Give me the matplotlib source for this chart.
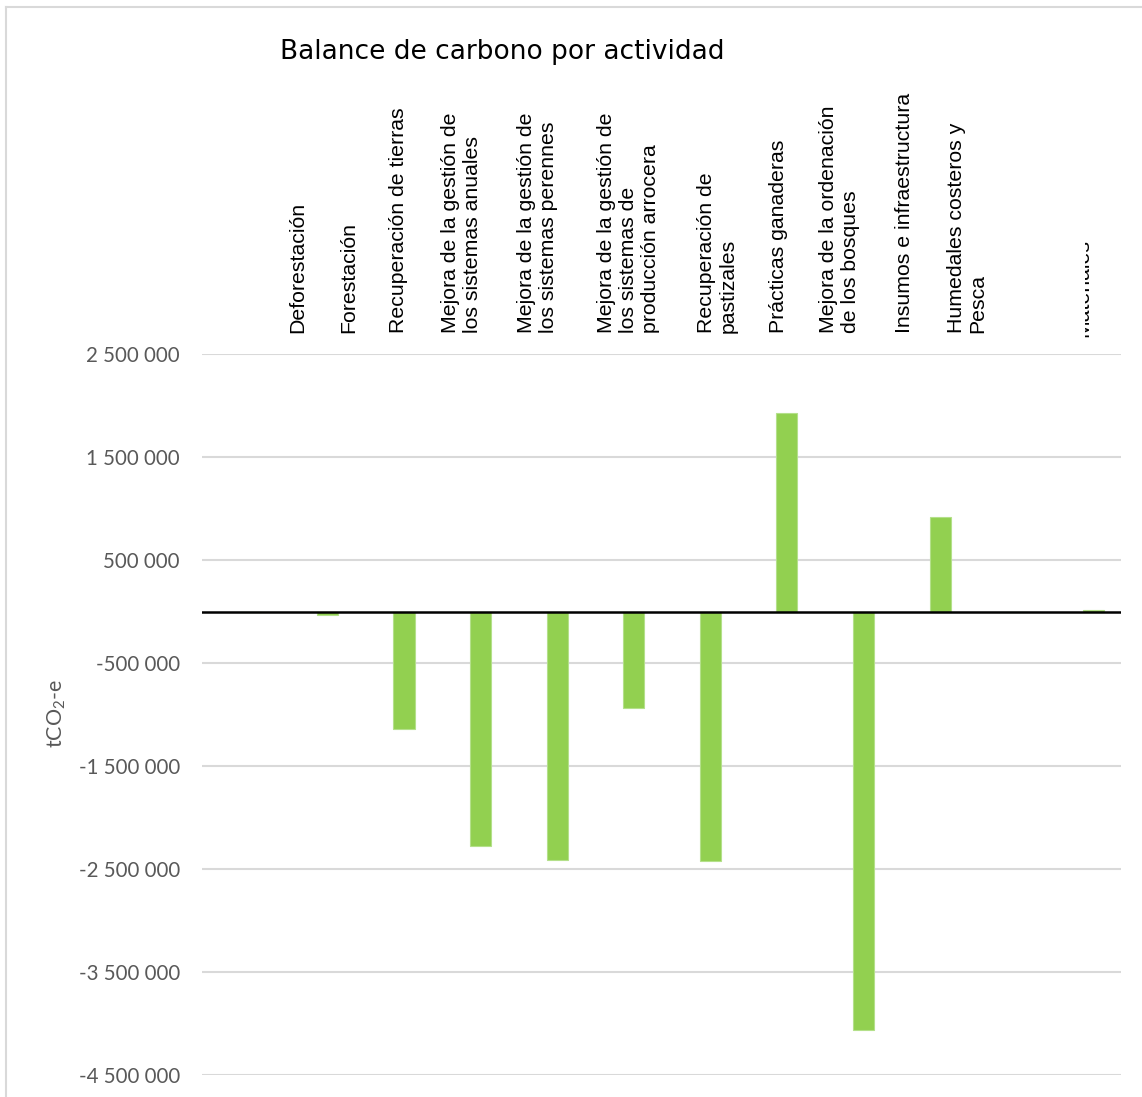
import matplotlib; matplotlib.use("Agg")
import matplotlib.pyplot as plt
from matplotlib.ticker import FuncFormatter, FixedLocator
from matplotlib.patches import Rectangle
from matplotlib.lines import Line2D

W, H = 1142, 1097

# data (tCO2-e)
categories = ["Deforestación", "Forestación", "Recuperación de tierras",
              "Mejora de la gestión de\nlos sistemas anuales",
              "Mejora de la gestión de\nlos sistemas perennes",
              "Mejora de la gestión de\nlos sistemas de\nproducción arrocera",
              "Recuperación de\npastizales", "Prácticas ganaderas",
              "Mejora de la ordenación\nde los bosques", "Insumos e infraestructura",
              "Humedales costeros y\nPesca", "Materiales"]
balance = [0, -30000, -1140000, -2280000, -2410000, -940000, -2420000,
           1930000, -4060000, 915000, 0, 15000]
yticks = [2500000, 1500000, 500000, -500000, -1500000, -2500000, -3500000, -4500000]

# pixel x centre of each rotated header label
label_x = [298, 349, 399, 462, 538, 628, 717, 778, 840, 904, 967, 1083]

plt.rcParams["mathtext.fontset"] = "custom"
plt.rcParams["mathtext.rm"] = "Lato"
plt.rcParams["mathtext.it"] = "Lato:italic"

fig = plt.figure(figsize=(W / 100, H / 100), dpi=100)
ax = fig.add_axes([202 / W, 1 - 1075 / H, (1121 - 202) / W, (1075 - 354) / H])

x = list(range(len(categories)))
ax.bar(x, balance, width=0.275, align="edge", color="#92d050",
       edgecolor="#b4e08a", linewidth=0.8, zorder=3)
ax.axhline(0, color="black", lw=1.8, zorder=4)

ax.set_xlim(-0.5, len(categories) - 0.5)
ax.set_ylim(-4500000, 2500000)
ax.yaxis.set_major_locator(FixedLocator(yticks))
ax.yaxis.set_major_formatter(FuncFormatter(lambda v, p: f"{v:,.0f}".replace(",", " ")))
ax.grid(axis="y", color="#d9d9d9", lw=1.5, zorder=0)
ax.set_xticks([])
ax.tick_params(axis="y", length=0, pad=16, labelsize=14.8, labelcolor="#595959")
for t in ax.get_yticklabels():
    t.set_fontfamily("Lato")
for s in ax.spines.values():
    s.set_visible(False)

# header labels (rotated, bottom-aligned)
for lab, px in zip(categories, label_x):
    t = fig.text(px / W, 1 - 333 / H, lab, rotation=90, ha="center", va="bottom",
                 fontsize=15.3, family="Liberation Sans", color="black",
                 linespacing=1.2, multialignment="left")
    if lab == "Materiales":
        clip = Rectangle((1085, 0), 10, H, transform=None)
        t.set_clip_path(clip)
        t.set_y(1 - 337 / H)

fig.text(502 / W, 1 - 52 / H, "Balance de carbono por actividad", ha="center",
         va="center", fontsize=19, family="DejaVu Sans", color="black")
fig.text(57 / W, 1 - 713 / H, "tCO$_2$-e", rotation=90, ha="center", va="center",
         fontsize=15.5, family="Lato", color="#595959")

# chart border (only top and left visible)
fig.add_artist(Line2D([6 / W, 1], [1 - 7 / H, 1 - 7 / H], color="#d9d9d9", lw=1.5))
fig.add_artist(Line2D([6 / W, 6 / W], [0, 1 - 7 / H], color="#d9d9d9", lw=1.5))

fig.savefig("out.png", dpi=100)
